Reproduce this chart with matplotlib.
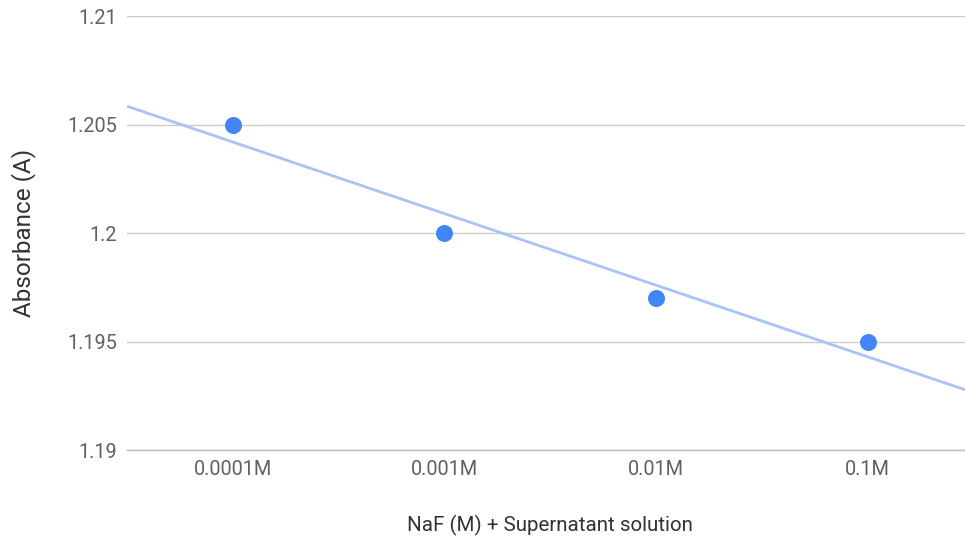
import matplotlib
matplotlib.use("Agg")
import matplotlib.pyplot as plt
import numpy as np

# ===== 数据 =====
categories = ["0.0001M", "0.001M", "0.01M", "0.1M"]
absorbance = [1.205, 1.200, 1.197, 1.195]
y_ticks = [1.19, 1.195, 1.2, 1.205, 1.21]
y_tick_labels = ["1.19", "1.195", "1.2", "1.205", "1.21"]

plt.rcParams["font.family"] = ["Roboto", "DejaVu Sans"]

fig = plt.figure(figsize=(9.65, 5.39), dpi=100)
ax = fig.add_axes([0.1316, 0.165, 0.8684, 0.805])

x = np.arange(len(categories))
xlim = (-0.5, 3.46)

# 线性趋势线
k, b = np.polyfit(x, absorbance, 1)
xt = np.array(xlim)
ax.plot(xt, k * xt + b, color="#a8c3f4", linewidth=2, zorder=2, solid_capstyle="butt")

ax.scatter(x, absorbance, s=150, color="#4285f4", zorder=3, linewidths=0)

ax.set_xlim(*xlim)
ax.set_ylim(1.19, 1.21)
ax.set_yticks(y_ticks)
ax.set_yticklabels(y_tick_labels, fontsize=14.3, color="#616161")
ax.set_xticks(x)
ax.set_xticklabels(categories, fontsize=14.3, color="#616161")
ax.tick_params(length=0)
ax.tick_params(axis="y", pad=7)
ax.tick_params(axis="x", pad=7)

ax.grid(axis="y", color="#cccccc", linewidth=1)
ax.set_axisbelow(True)
for s in ["top", "right", "left"]:
    ax.spines[s].set_visible(False)
ax.spines["bottom"].set_color("#bbbbbb")
ax.spines["bottom"].set_linewidth(1)

ax.set_xlabel("NaF (M) + Supernatant solution", fontsize=14.8, color="#333333")
ax.set_ylabel("Absorbance (A)", fontsize=17.5, color="#333333")
ax.xaxis.set_label_coords(0.505, -0.173)
ax.xaxis.label.set_va("center")
ax.yaxis.set_label_coords(-0.123, 0.5)
ax.yaxis.label.set_va("center")

fig.savefig("out.png", dpi=100)
plt.close()
